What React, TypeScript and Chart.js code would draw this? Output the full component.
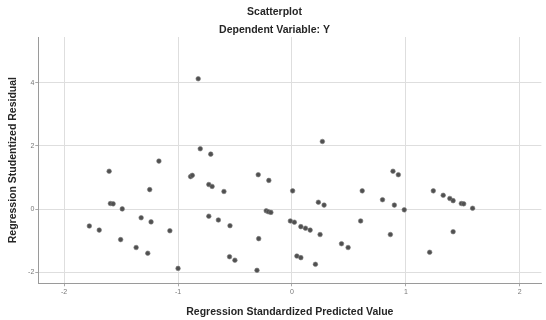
import React, { useEffect, useRef } from "react";
import { Chart, registerables } from "chart.js";

Chart.register(...registerables);

const xTickValues = [-2, -1, 0, 1, 2];
const yTickValues = [-2, 0, 2, 4];

const predictedValues = [
  -0.823, -0.805, -0.713, -1.168, -1.605, -0.89, -0.875, -0.296, -0.203, -0.73,
  -0.701, -1.249, -0.597, -1.594, -1.57, -1.49, -0.226, -0.207, -0.185, -1.324,
  -0.73, -1.237, -0.646, -1.779, -0.544, -1.692, -1.072, -1.504, -0.292, -1.368,
  -1.266, -0.548, -0.501, -1.0, -0.307,
  0.267, 0.006, 0.617, 0.232, 0.282, -0.014, 0.021, 0.078, 0.119, 0.16,
  0.247, 0.603, 0.435, 0.493, 0.043, 0.078, 0.206, 0.887, 0.934, 0.795,
  0.899, 0.986, 0.864, 1.241, 1.328, 1.386, 1.415, 1.487, 1.508, 1.586,
  1.415, 1.209,
];

const residualValues = [
  4.12, 1.91, 1.74, 1.52, 1.2, 1.03, 1.07, 1.09, 0.91, 0.78,
  0.72, 0.62, 0.56, 0.18, 0.17, 0.01, -0.05, -0.08, -0.1, -0.27,
  -0.22, -0.4, -0.34, -0.53, -0.52, -0.66, -0.68, -0.96, -0.93, -1.21,
  -1.39, -1.5, -1.61, -1.87, -1.93,
  2.14, 0.58, 0.58, 0.22, 0.13, -0.37, -0.41, -0.55, -0.6, -0.66,
  -0.8, -0.37, -1.09, -1.21, -1.48, -1.53, -1.74, 1.2, 1.09, 0.3,
  0.13, -0.02, -0.8, 0.58, 0.44, 0.34, 0.27, 0.18, 0.17, 0.03,
  -0.71, -1.36,
];

const FONT = "'Liberation Sans', Arial, sans-serif";

export default function App() {
  const ref = useRef<HTMLCanvasElement | null>(null);

  useEffect(() => {
    if (!ref.current) return;
    const points = predictedValues.map((x, i) => ({ x, y: residualValues[i] }));
    const chart = new Chart(ref.current, {
      type: "scatter",
      data: {
        datasets: [
          {
            data: points,
            pointRadius: 2.3,
            pointBackgroundColor: "#505050",
            pointBorderColor: "#7a7a7a",
            pointBorderWidth: 0.6,
          },
        ],
      },
      options: {
        animation: false,
        responsive: false,
        devicePixelRatio: 1,
        layout: { padding: { left: 4, right: 1, top: 0, bottom: 2 } },
        plugins: {
          legend: { display: false },
          tooltip: { enabled: false },
          title: {
            display: true,
            text: "Scatterplot",
            color: "#262626",
            font: { family: FONT, size: 10.5, weight: "bold" },
            padding: { top: 6.2, bottom: 1.5 },
          },
          subtitle: {
            display: true,
            text: "Dependent Variable: Y",
            color: "#262626",
            font: { family: FONT, size: 10.5, weight: "bold" },
            padding: { top: 4, bottom: 0.1 },
          },
        },
        scales: {
          x: {
            type: "linear",
            min: -2.227,
            max: 2.19,
            afterBuildTicks: (scale: any) => {
              scale.ticks = xTickValues.map((v) => ({ value: v }));
            },
            afterFit: (scale: any) => {
              scale.height = 34.7;
            },
            ticks: {
              color: "#777",
              font: { family: FONT, size: 7 },
              padding: 2,
              callback: (v: any) => String(v),
            },
            grid: { color: "#dedede", tickColor: "#aaa", tickLength: 3 },
            border: { color: "#9a9a9a" },
            title: {
              display: true,
              text: "Regression Standardized Predicted Value",
              color: "#262626",
              font: { family: FONT, size: 10.5, weight: "bold" },
              padding: { top: 0, bottom: 0 },
            },
          },
          y: {
            type: "linear",
            min: -2.34,
            max: 5.44,
            afterBuildTicks: (scale: any) => {
              scale.ticks = yTickValues.map((v) => ({ value: v }));
            },
            afterFit: (scale: any) => {
              scale.width = 34.3;
            },
            ticks: {
              color: "#777",
              font: { family: FONT, size: 7 },
              padding: 1,
              callback: (v: any) => String(v),
            },
            grid: { color: "#dedede", tickColor: "#aaa", tickLength: 3 },
            border: { color: "#9a9a9a" },
            title: {
              display: true,
              text: "Regression Studentized Residual",
              color: "#262626",
              font: { family: FONT, size: 10.5, weight: "bold" },
              padding: { top: 3.2, bottom: 0 },
            },
          },
        },
      },
    });
    return () => chart.destroy();
  }, []);

  return (
    <div style={{ position: "absolute", left: 0, top: 0, width: 546, height: 320, background: "#fff" }}>
      <canvas ref={ref} width={546} height={320} style={{ display: "block" }} />
    </div>
  );
}
